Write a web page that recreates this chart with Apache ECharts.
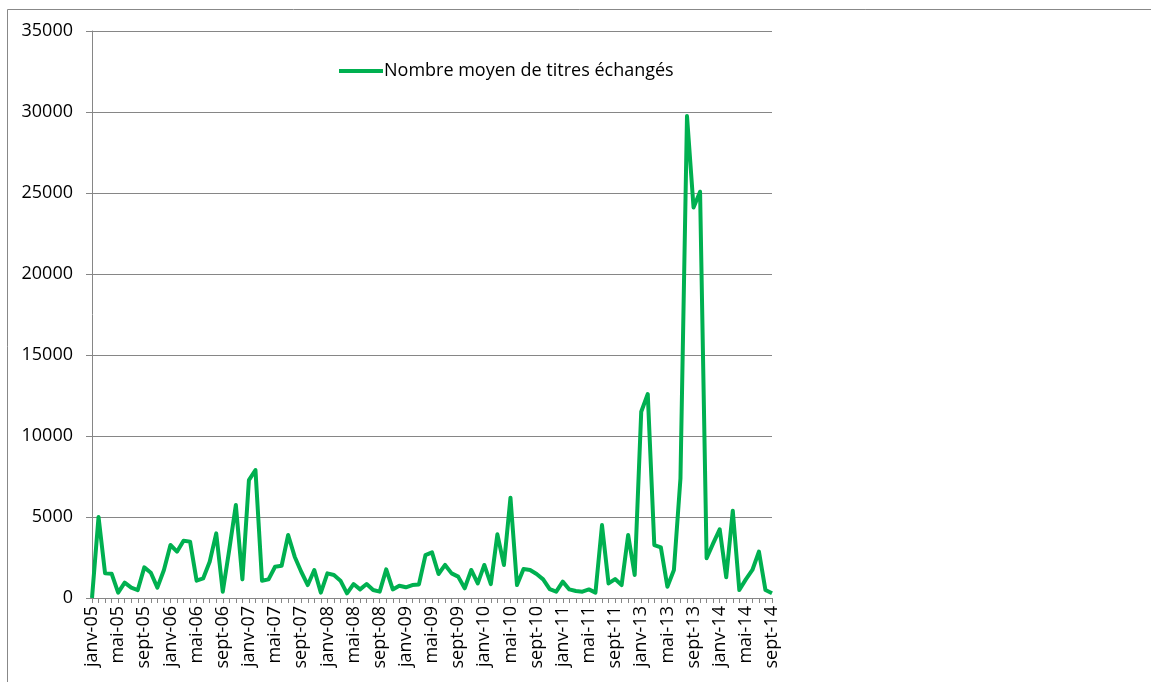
<!DOCTYPE html>
<html>
<head>
<meta charset="utf-8">
<script src="https://cdn.jsdelivr.net/npm/echarts@6/dist/echarts.min.js"></script>
<style>
html,body{margin:0;padding:0;background:#fff;}
#chart{width:1151px;height:682px;}
</style>
</head>
<body>
<div id="chart"></div>
<script>
const categories = [
 'janv-05','févr-05','mars-05','avr-05','mai-05','juin-05','juil-05','août-05','sept-05','oct-05','nov-05','déc-05',
 'janv-06','févr-06','mars-06','avr-06','mai-06','juin-06','juil-06','août-06','sept-06','oct-06','nov-06','déc-06',
 'janv-07','févr-07','mars-07','avr-07','mai-07','juin-07','juil-07','août-07','sept-07','oct-07','nov-07','déc-07',
 'janv-08','févr-08','mars-08','avr-08','mai-08','juin-08','juil-08','août-08','sept-08','oct-08','nov-08','déc-08',
 'janv-09','févr-09','mars-09','avr-09','mai-09','juin-09','juil-09','août-09','sept-09','oct-09','nov-09','déc-09',
 'janv-10','févr-10','mars-10','avr-10','mai-10','juin-10','juil-10','août-10','sept-10','oct-10','nov-10','déc-10',
 'janv-11','févr-11','mars-11','avr-11','mai-11','juin-11','juil-11','août-11','sept-11','oct-11','nov-11','déc-11',
 'janv-13','févr-13','mars-13','avr-13','mai-13','juin-13','juil-13','août-13','sept-13','oct-13','nov-13','déc-13',
 'janv-14','févr-14','mars-14','avr-14','mai-14','juin-14','juil-14','août-14','sept-14'
];
const seriesName = 'Nombre moyen de titres échangés';
const values = [
 0,5000,1520,1500,330,950,640,490,1890,1560,640,1730,
 3270,2860,3540,3480,1070,1210,2240,3990,390,3000,5740,1150,
 7280,7900,1070,1150,1930,1990,3890,2550,1620,800,1730,330,
 1520,1420,1070,290,860,530,860,490,390,1770,530,760,
 660,800,840,2650,2820,1480,2040,1520,1320,600,1730,900,
 2040,860,3930,2040,6190,800,1790,1730,1480,1150,550,390,
 1010,530,430,390,530,330,4500,900,1170,800,3890,1420,
 11500,12590,3270,3130,700,1730,7390,29750,24110,25080,2450,3370,
 4240,1280,5390,490,1150,1730,2860,490,290
];
const yTicks = {min: 0, max: 35000, interval: 5000};

const FONT = '"Open Sans", "Liberation Sans", sans-serif';
const chart = echarts.init(document.getElementById('chart'), null, {renderer: 'canvas'});
chart.setOption({
  animation: false,
  backgroundColor: '#fff',
  graphic: [{
    type: 'rect', left: 5, top: 7, silent: true,
    shape: {x: 0, y: 0, width: 1300, height: 900},
    style: {fill: 'none', stroke: '#888888', lineWidth: 1}
  }],
  grid: {left: 92, right: 379, top: 31, bottom: 84, containLabel: false},
  legend: {
    left: 334, top: 57,
    icon: 'rect', itemWidth: 44, itemHeight: 4, itemGap: 0,
    textStyle: {fontFamily: FONT, fontSize: 18, color: '#000', padding: [0,0,0,-4]},
    data: [seriesName]
  },
  xAxis: {
    type: 'category', boundaryGap: false, data: categories,
    axisLine: {lineStyle: {color: '#868686', width: 1}},
    axisTick: {show: true, interval: 0, length: 5, lineStyle: {color: '#868686'}},
    axisLabel: {interval: 3, rotate: 90, margin: 8, fontFamily: FONT, fontSize: 18, color: '#000'},
    splitLine: {show: false}
  },
  yAxis: {
    type: 'value', min: yTicks.min, max: yTicks.max, interval: yTicks.interval,
    axisLine: {show: true, lineStyle: {color: '#868686', width: 1}},
    axisTick: {show: true, length: 6, lineStyle: {color: '#868686'}},
    axisLabel: {margin: 19, fontFamily: FONT, fontSize: 18, color: '#000', formatter: function (v) { return String(v); }},
    splitLine: {show: true, lineStyle: {color: '#868686', width: 1}}
  },
  series: [{
    name: seriesName, type: 'line', data: values,
    symbol: 'none', smooth: false,
    lineStyle: {color: '#00B050', width: 4, join: 'round'},
    itemStyle: {color: '#00B050'}
  }]
});
</script>
</body>
</html>
